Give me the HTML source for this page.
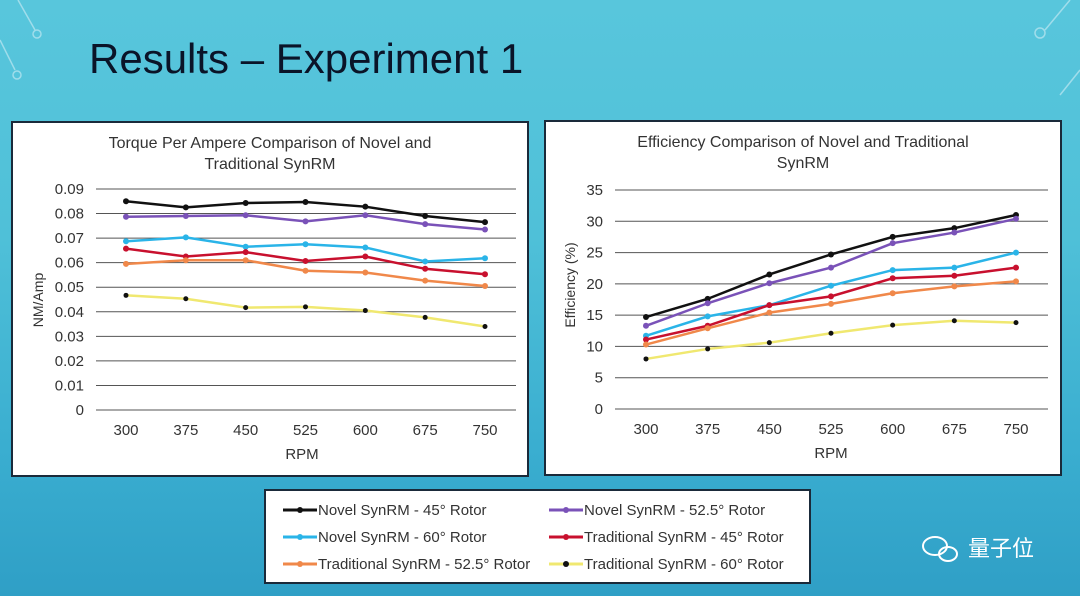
<!DOCTYPE html>
<html><head><meta charset="utf-8">
<style>
html,body{margin:0;padding:0;}
body{width:1080px;height:596px;overflow:hidden;position:relative;
background:linear-gradient(180deg,#58c6dc 0%,#4fc0d8 40%,#3aaed0 75%,#2f9fc6 100%);
font-family:"Liberation Sans","Noto Sans CJK SC",sans-serif;}
#title{position:absolute;left:89px;top:35px;font-size:42px;color:#0a1428;white-space:nowrap;}
svg{position:absolute;left:0;top:0;}
</style></head>
<body>
<div id="title">Results – Experiment 1</div>
<svg id="s" width="1080" height="596">
<g stroke="#bfe8f2" stroke-width="1.5" fill="none" opacity="0.7">
<path d="M18,0 L35,30"/><circle cx="37" cy="34" r="4"/><path d="M0,40 L15,70"/><circle cx="17" cy="75" r="4"/>
<path d="M1070,0 L1045,30"/><circle cx="1040" cy="33" r="5"/><path d="M1080,70 L1060,95"/>
</g>
<rect x="12" y="122" width="516" height="354" fill="#fff" stroke="#1a2a3a" stroke-width="2"/>
<rect x="545" y="121" width="516" height="354" fill="#fff" stroke="#1a2a3a" stroke-width="2"/>
<rect x="265" y="490" width="545" height="93" fill="#fff" stroke="#1a2a3a" stroke-width="2"/>
<text x="270" y="148" text-anchor="middle" font-size="16" fill="#333">Torque Per Ampere  Comparison  of Novel  and</text>
<text x="270" y="169" text-anchor="middle" font-size="16" fill="#333">Traditional  SynRM</text>
<text x="803" y="147" text-anchor="middle" font-size="16" fill="#333">Efficiency Comparison  of Novel  and Traditional</text>
<text x="803" y="168" text-anchor="middle" font-size="16" fill="#333">SynRM</text>
<text x="302" y="459" text-anchor="middle" font-size="15" fill="#333">RPM</text>
<text x="831" y="458" text-anchor="middle" font-size="15" fill="#333">RPM</text>
<text transform="translate(43,300) rotate(-90)" text-anchor="middle" font-size="14" fill="#333">NM/Amp</text>
<text transform="translate(575,285) rotate(-90)" text-anchor="middle" font-size="14" fill="#333">Efficiency (%)</text>
<g id="g1"></g><g id="g2"></g><g id="lg"></g>
<text x="968" y="556" font-size="22" fill="#fff">量子位</text>
<g fill="none" stroke="#fff" stroke-width="2"><ellipse cx="935" cy="546" rx="12" ry="9"/><ellipse cx="948" cy="554" rx="9" ry="7"/></g>
</svg>
<script>
const categories=["300","375","450","525","600","675","750"];
const seriesNames=["Novel SynRM - 45° Rotor","Novel SynRM - 52.5° Rotor","Novel SynRM - 60° Rotor","Traditional SynRM - 45° Rotor","Traditional SynRM - 52.5° Rotor","Traditional SynRM - 60° Rotor"];
const seriesColors=["#111111","#7a52b8","#2ab4e8","#c8102e","#f0884a","#f0e870"];
const torqueTicks=["0","0.01","0.02","0.03","0.04","0.05","0.06","0.07","0.08","0.09"];
const torqueNovel45=[0.085,0.0825,0.0843,0.0847,0.0828,0.079,0.0765];
const torqueNovel525=[0.0787,0.079,0.0793,0.0768,0.0793,0.0757,0.0735];
const torqueNovel60=[0.0687,0.0703,0.0665,0.0675,0.0662,0.0605,0.0618];
const torqueTrad45=[0.0657,0.0625,0.0643,0.0607,0.0625,0.0575,0.0553];
const torqueTrad525=[0.0595,0.061,0.061,0.0567,0.056,0.0527,0.0505];
const torqueTrad60=[0.0467,0.0453,0.0417,0.042,0.0405,0.0377,0.034];
const effTicks=["0","5","10","15","20","25","30","35"];
const effNovel45=[14.7,17.6,21.5,24.7,27.5,28.9,31.0];
const effNovel525=[13.3,16.9,20.1,22.6,26.5,28.2,30.4];
const effNovel60=[11.7,14.8,16.6,19.7,22.2,22.6,25.0];
const effTrad45=[11.1,13.3,16.6,18.0,20.9,21.3,22.6];
const effTrad525=[10.3,12.9,15.4,16.8,18.5,19.6,20.4];
const effTrad60=[8.0,9.6,10.6,12.1,13.4,14.1,13.8];
const NS="http://www.w3.org/2000/svg";
function mk(t,a,p){const e=document.createElementNS(NS,t);for(const k in a)e.setAttribute(k,a[k]);p.appendChild(e);return e;}
function chart(g,cfg,series,prefix){
  const y=v=>cfg.y0-(v/cfg.max)*(cfg.y0-cfg.y1);
  const x=i=>cfg.xa+i*(cfg.xb-cfg.xa)/(categories.length-1);
  cfg.ticks.forEach(t=>{const v=parseFloat(t);
    const l=mk("line",{x1:cfg.gx0,x2:cfg.gx1,y1:y(v),y2:y(v),stroke:"#555","stroke-width":1},g);
    
    
    const tx=mk("text",{x:cfg.gx0-12,y:y(v)+5,"text-anchor":"end","font-size":15,fill:"#333"},g);tx.textContent=t;
    
    
  });
  categories.forEach((c,i)=>{const tx=mk("text",{x:x(i),y:cfg.y0+25,"text-anchor":"middle","font-size":15,fill:"#333"},g);tx.textContent=c;
    
    
  });
  series.forEach((s,k)=>{
    const pl=mk("polyline",{points:s.map((v,i)=>x(i)+","+y(v)).join(" "),fill:"none",stroke:seriesColors[k],"stroke-width":2.5},g);
    
    
    s.forEach((v,i)=>{const c=mk("circle",{cx:x(i),cy:y(v),r:k==5?2.5:3,fill:k==5?"#111":seriesColors[k]},g);
      
      
    });
  });
}
chart(document.getElementById("g1"),{y0:410,y1:189,max:0.09,xa:126,xb:485,gx0:96,gx1:516,ticks:torqueTicks},
 [torqueNovel45,torqueNovel525,torqueNovel60,torqueTrad45,torqueTrad525,torqueTrad60],"torque");
chart(document.getElementById("g2"),{y0:409,y1:190,max:35,xa:646,xb:1016,gx0:615,gx1:1048,ticks:effTicks},
 [effNovel45,effNovel525,effNovel60,effTrad45,effTrad525,effTrad60],"efficiency");
const lg=document.getElementById("lg");
seriesNames.forEach((n,k)=>{
  const col=k%2, row=Math.floor(k/2);
  const lx=col?549:283, ly=510+row*27;
  const l=mk("line",{x1:lx,x2:lx+34,y1:ly,y2:ly,stroke:seriesColors[k],"stroke-width":3},lg);
  
  
  mk("circle",{cx:lx+17,cy:ly,r:3,fill:k==5?"#111":seriesColors[k]},lg);
  const t=mk("text",{x:lx+35,y:ly+5,"font-size":15,fill:"#333"},lg);t.textContent=n;
  
  
});
</script>
</body></html>
